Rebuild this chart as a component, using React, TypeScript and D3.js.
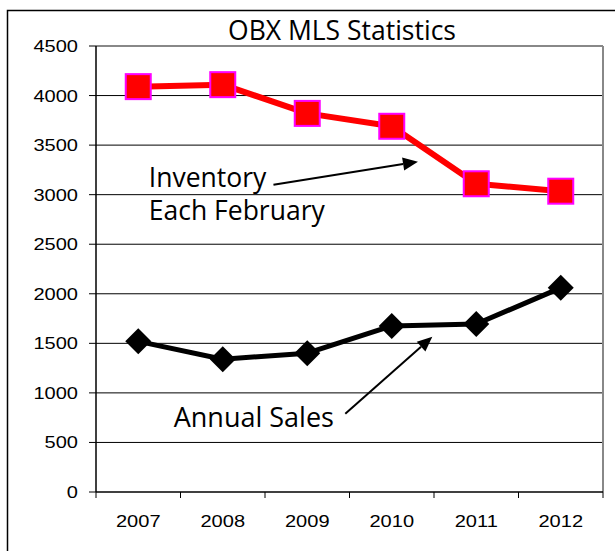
import React from "react";
import * as d3 from "d3";

const years = ["2007", "2008", "2009", "2010", "2011", "2012"];
const inventory = [4090, 4110, 3820, 3690, 3110, 3035];
const sales = [1520, 1340, 1400, 1675, 1695, 2060];
const yTicks = [0, 500, 1000, 1500, 2000, 2500, 3000, 3500, 4000, 4500];
const title = "OBX MLS Statistics";

const W = 615;
const H = 551;
const plot = { left: 96, right: 603, top: 46, bottom: 492 };

export default function App() {
  const x = d3.scaleBand<string>().domain(years).range([plot.left, plot.right]).padding(0);
  const xc = (i: number) => (x(years[i]) as number) + x.bandwidth() / 2;
  // continuous index scale for annotation placement
  const xi = d3.scaleLinear().domain([-0.5, years.length - 0.5]).range([plot.left, plot.right]);
  const y = d3.scaleLinear().domain([0, 4500]).range([plot.bottom, plot.top]);

  const line = d3
    .line<number>()
    .x((_, i) => xc(i))
    .y((d) => y(d));

  const numFont = "'Liberation Sans', Arial, sans-serif";
  const annFont = "'Open Sans', 'Noto Sans', sans-serif";

  const boundaries = d3.range(years.length + 1).map((i) => plot.left + i * x.bandwidth());

  const arrow = (x1: number, y1: number, x2: number, y2: number, key: string) => {
    const px1 = xi(x1), py1 = y(y1), px2 = xi(x2), py2 = y(y2);
    const ang = Math.atan2(py2 - py1, px2 - px1);
    const len = 15, half = 6.5;
    const bx = px2 - len * Math.cos(ang), by = py2 - len * Math.sin(ang);
    const p1 = [bx + half * Math.sin(ang), by - half * Math.cos(ang)];
    const p2 = [bx - half * Math.sin(ang), by + half * Math.cos(ang)];
    return (
      <g key={key}>
        <line x1={px1} y1={py1} x2={bx} y2={by} stroke="#000" strokeWidth={2} />
        <polygon points={`${px2},${py2} ${p1[0]},${p1[1]} ${p2[0]},${p2[1]}`} fill="#000" />
      </g>
    );
  };

  return (
    <svg
      width={W}
      height={H}
      style={{ position: "absolute", left: 0, top: 0, background: "#fff" }}
    >
      <rect x={0} y={0} width={W} height={H} fill="#fff" />
      {/* outer chart border */}
      <rect x={7.5} y={10.5} width={W + 50} height={H + 50} fill="none" stroke="#000" strokeWidth={1.5} />

      {/* title */}
      <text x={342} y={40} textAnchor="middle" fontFamily={annFont} fontSize={26.5} fill="#000">
        {title}
      </text>

      {/* gridlines */}
      {yTicks
        .filter((t) => t > 0 && t < 4500)
        .map((t) => (
          <line key={t} x1={plot.left} x2={plot.right} y1={y(t)} y2={y(t)} stroke="#000" strokeWidth={1} />
        ))}

      {/* plot border (top/right gray) */}
      <line x1={plot.left} x2={plot.right} y1={y(4500)} y2={y(4500)} stroke="#888" strokeWidth={2} />
      <line x1={plot.right} x2={plot.right} y1={y(4500)} y2={plot.bottom} stroke="#888" strokeWidth={2} />

      {/* axes */}
      <line x1={plot.left} x2={plot.left} y1={y(4500)} y2={plot.bottom} stroke="#000" strokeWidth={1.5} />
      <line x1={plot.left} x2={plot.right} y1={plot.bottom} y2={plot.bottom} stroke="#000" strokeWidth={1.5} />

      {/* y ticks and labels */}
      {yTicks.map((t) => (
        <g key={"yt" + t}>
          <line x1={plot.left - 7} x2={plot.left} y1={y(t)} y2={y(t)} stroke="#000" strokeWidth={1} />
          <text
            transform={`translate(${plot.left - 18},${y(t) + 6}) scale(1.18,1)`}
            textAnchor="end"
            fontFamily={numFont}
            fontSize={17}
            fill="#000"
          >
            {String(t)}
          </text>
        </g>
      ))}

      {/* x ticks */}
      {boundaries.map((bx, i) => (
        <line key={"xt" + i} x1={bx} x2={bx} y1={plot.bottom} y2={plot.bottom + 6} stroke="#000" strokeWidth={1} />
      ))}
      {years.map((yr, i) => (
        <text
          key={yr}
          transform={`translate(${xc(i)},${527}) scale(1.18,1)`}
          textAnchor="middle"
          fontFamily={numFont}
          fontSize={17}
          fill="#000"
        >
          {yr}
        </text>
      ))}

      {/* lines */}
      <path d={line(inventory) || ""} fill="none" stroke="#ff0000" strokeWidth={6} strokeLinejoin="round" />
      <path d={line(sales) || ""} fill="none" stroke="#000" strokeWidth={5} strokeLinejoin="round" />

      {/* markers */}
      {inventory.map((v, i) => (
        <rect
          key={"inv" + i}
          x={xc(i) - 12.5}
          y={y(v) - 12.5}
          width={25}
          height={25}
          fill="#ff0000"
          stroke="#ff00ff"
          strokeWidth={2}
        />
      ))}
      {sales.map((v, i) => {
        const cx = xc(i), cy = y(v), r = 13;
        return (
          <polygon
            key={"s" + i}
            points={`${cx},${cy - r} ${cx + r},${cy} ${cx},${cy + r} ${cx - r},${cy}`}
            fill="#000"
          />
        );
      })}

      {/* annotations */}
      <text x={xi(0.125)} y={y(3075)} fontFamily={annFont} fontSize={26.5} fill="#000">
        Inventory
      </text>
      <text x={xi(0.125)} y={y(2740)} fontFamily={annFont} fontSize={26.5} fill="#000">
        Each February
      </text>
      {arrow(1.6, 3100, 3.31, 3333, "a1")}
      <text x={xi(0.42)} y={y(655)} fontFamily={annFont} fontSize={27} fill="#000">
        Annual Sales
      </text>
      {arrow(2.45, 790, 3.48, 1566, "a2")}
    </svg>
  );
}
